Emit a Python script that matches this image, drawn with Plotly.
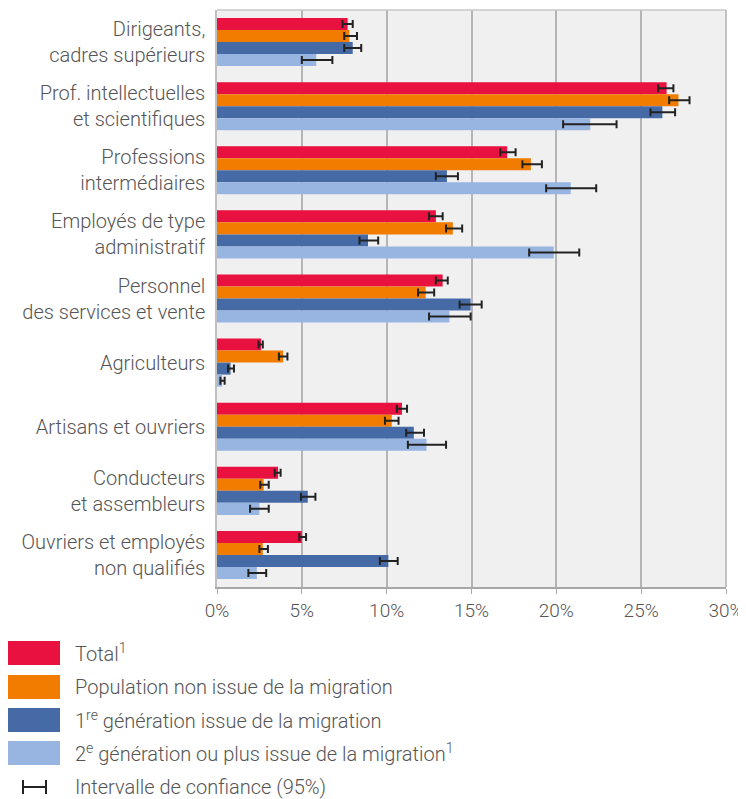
import plotly.graph_objects as go

categories = ["Dirigeants,<br>cadres supérieurs", "Prof. intellectuelles<br>et scientifiques",
              "Professions<br>intermédiaires", "Employés de type<br>administratif",
              "Personnel<br>des services et vente", "Agriculteurs", "Artisans et ouvriers",
              "Conducteurs<br>et assembleurs", "Ouvriers et employés<br>non qualifiés"]

series_names = ["Total<sup>1</sup>", "Population non issue de la migration",
                "1<sup>re</sup> génération issue de la migration",
                "2<sup>e</sup> génération ou plus issue de la migration<sup>1</sup>"]
ci_label = "Intervalle de confiance (95%)"

total = [7.7, 26.5, 17.1, 12.9, 13.3, 2.6, 10.9, 3.6, 5.0]
total_lo = [7.4, 26.0, 16.7, 12.5, 12.9, 2.45, 10.6, 3.4, 4.85]
total_hi = [8.0, 26.9, 17.6, 13.3, 13.6, 2.7, 11.2, 3.75, 5.25]

non_migr = [7.8, 27.2, 18.5, 13.9, 12.3, 3.9, 10.3, 2.75, 2.7]
non_migr_lo = [7.5, 26.65, 18.0, 13.5, 11.85, 3.65, 9.9, 2.55, 2.5]
non_migr_hi = [8.25, 27.85, 19.15, 14.45, 12.8, 4.15, 10.7, 3.05, 3.0]

gen1 = [8.0, 26.25, 13.55, 8.9, 14.95, 0.8, 11.6, 5.35, 10.1]
gen1_lo = [7.5, 25.55, 12.9, 8.4, 14.3, 0.65, 11.15, 4.95, 9.6]
gen1_hi = [8.5, 27.0, 14.2, 9.5, 15.6, 1.0, 12.2, 5.8, 10.65]

gen2 = [5.85, 22.0, 20.85, 19.85, 13.7, 0.3, 12.35, 2.5, 2.35]
gen2_lo = [5.0, 20.4, 19.4, 18.4, 12.5, 0.2, 11.25, 1.95, 1.85]
gen2_hi = [6.8, 23.55, 22.35, 21.35, 14.95, 0.45, 13.5, 3.05, 2.9]

x_ticks = [0, 5, 10, 15, 20, 25, 30]
x_tick_labels = ["0%", "5%", "10%", "15%", "20%", "25%", "30%"]

colors = ["#e8113f", "#f27c00", "#466aa6", "#98b5e2"]
FONT = "Roboto"
TXT = "#555555"
FS = 20

# the page body adds an 8px offset; the figure is sized to fit the window
OFF = 8
W, H = 746 - OFF, 799 - OFF
ML, MR, MT, MB = 217 - OFF, W - (726 - OFF), 10 - OFF, H - (587 - OFF)
PW, PH = W - ML - MR, H - MT - MB

fig = go.Figure()
data = [(total, total_lo, total_hi), (non_migr, non_migr_lo, non_migr_hi),
        (gen1, gen1_lo, gen1_hi), (gen2, gen2_lo, gen2_hi)]
for name, col, (v, lo, hi) in zip(series_names, colors, data):
    fig.add_trace(go.Bar(
        y=categories, x=v, orientation="h", name=name, showlegend=False,
        marker=dict(color=col, line=dict(width=0)),
        error_x=dict(type="data", symmetric=False,
                     array=[h - a for h, a in zip(hi, v)],
                     arrayminus=[a - l for a, l in zip(v, lo)],
                     color="#222222", thickness=2, width=4),
    ))

tf = dict(size=FS, color=TXT, family=FONT, weight=300)
xtf = dict(size=19, color=TXT, family=FONT, weight=300)
fig.update_layout(
    width=W, height=H, barmode="group", bargap=0.25, bargroupgap=0,
    margin=dict(l=ML, r=MR, t=MT, b=MB),
    paper_bgcolor="white", plot_bgcolor="#f0f0f0",
    font=tf,
)
fig.update_xaxes(range=[0, 30], tickmode="array", tickvals=x_ticks, ticktext=x_tick_labels,
                 showgrid=True, gridcolor="#b5b5b5", gridwidth=1.5,
                 showline=True, linecolor="#a8a8a8", linewidth=2, mirror=False,
                 ticks="outside", ticklen=5, tickcolor="#a8a8a8", tickwidth=1,
                 zeroline=False, tickfont=xtf)
fig.update_yaxes(autorange="reversed", showgrid=False, showline=True,
                 linecolor="#c0c0c0", linewidth=1.5, ticks="", ticklabelstandoff=6,
                 tickfont=tf)

# plot frame top/right
fig.add_shape(type="line", xref="paper", yref="paper", x0=0, x1=1, y0=1, y1=1,
              line=dict(color="#c8c8c8", width=1.5))
fig.add_shape(type="line", xref="paper", yref="paper", x0=1, x1=1, y0=0, y1=1,
              line=dict(color="#b0b0b0", width=1.5))

def px(xpage):
    return (xpage - OFF - ML) / PW

def py(ypage):
    return (H - MB - (ypage - OFF)) / PH

row_y = [653, 687, 720, 753, 787]
for name, col, yc in zip(series_names, colors, row_y):
    fig.add_shape(type="rect", xref="paper", yref="paper",
                  x0=px(8), x1=px(60), y0=py(yc + 12), y1=py(yc - 12),
                  fillcolor=col, line=dict(width=0))
    fig.add_annotation(text=name, xref="paper", yref="paper", x=px(73), y=py(yc),
                       xanchor="left", yanchor="middle", showarrow=False, font=tf)
yc = row_y[4]
fig.add_shape(type="line", xref="paper", yref="paper", x0=px(23), x1=px(46),
              y0=py(yc), y1=py(yc), line=dict(color="#222222", width=2))
for xe in (23, 46):
    fig.add_shape(type="line", xref="paper", yref="paper", x0=px(xe), x1=px(xe),
                  y0=py(yc - 7), y1=py(yc + 7), line=dict(color="#222222", width=2))
fig.add_annotation(text=ci_label, xref="paper", yref="paper", x=px(73), y=py(yc),
                   xanchor="left", yanchor="middle", showarrow=False, font=tf)

fig.write_html("out.html")
